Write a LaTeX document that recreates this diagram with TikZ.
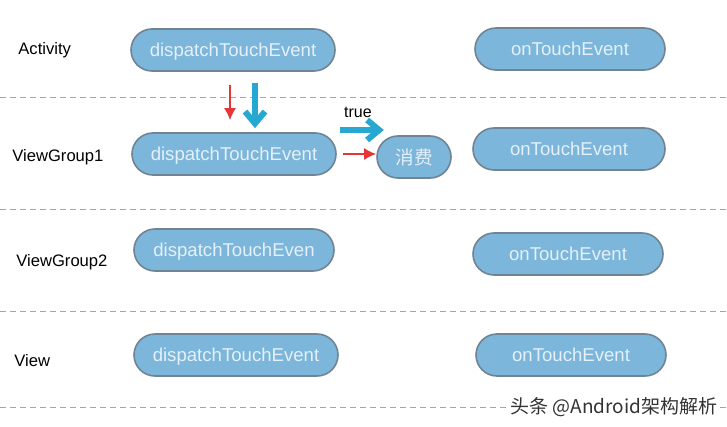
\documentclass[tikz,border=0pt]{standalone}
\usepackage{fontspec}
\setmainfont{Liberation Sans}
\newfontfamily\cjkfont{Noto Sans CJK SC}
\usetikzlibrary{positioning, arrows.meta}
\definecolor{boxblue}{RGB}{124,182,218}
\definecolor{boxedge}{RGB}{112,132,148}
\definecolor{boxtext}{RGB}{228,240,250}
\definecolor{arrowblue}{RGB}{38,168,210}
\definecolor{arrowred}{RGB}{232,52,52}
\begin{document}
\begin{tikzpicture}[x=0.5pt,y=-0.5pt,eventbox/.style={draw=boxedge,thick,fill=boxblue,rounded corners=10.5pt,text=boxtext,font=\fontsize{9.3}{11}\selectfont,minimum width=102pt,minimum height=21pt,inner sep=0pt,text height=6.7pt,text depth=0pt},smallbox/.style={eventbox,minimum width=37pt,text height=7.5pt},layer/.style={anchor=west,inner sep=0pt,font=\fontsize{8.3}{10}\selectfont},divider/.style={gray!70,dashed,dash pattern=on 3pt off 2pt,thin},redarrow/.style={arrowred,line width=1pt,-{Latex[length=6pt,width=6pt]}},bluearrow/.style={arrowblue,line width=3pt,-{Straight Barb[length=6pt,width=10pt]}}]
\useasboundingbox[fill=white] (0,0) rectangle (727,427);
\node[layer] (activity) at (18,50) {Activity};
\node[layer] (vgone) at (12,157) {ViewGroup1};
\node[layer] (vgtwo) at (16,262) {ViewGroup2};
\node[layer] (view) at (14,361) {View};
\node[eventbox] (actdisp) at (233,50) {dispatchTouchEvent};
\node[eventbox, minimum width=95pt] (actouch) at (570,49) {onTouchEvent};
\node[eventbox] (vgonedisp) at (234,154) {dispatchTouchEvent};
\node[smallbox] (consume) at (414,157) {\cjkfont 消费};
\node[eventbox, minimum width=96pt] (vgonetouch) at (569,149) {onTouchEvent};
\node[eventbox, minimum width=100pt] (vgtwodisp) at (234,250) {dispatchTouchEven};
\node[eventbox, minimum width=95pt] (vgtwotouch) at (568,254) {onTouchEvent};
\node[eventbox] (viewdisp) at (236,355) {dispatchTouchEvent};
\node[eventbox, minimum width=95pt] (viewtouch) at (571,355) {onTouchEvent};
\draw[divider] (0,97) -- (727,97);\draw[divider] (0,209) -- (727,209);\draw[divider] (0,311) -- (727,311);\draw[divider] (0,407) -- (727,407);
\draw[redarrow] ([shift={(-3,13)}]actdisp.south) -- ([shift={(-4,-12)}]vgonedisp.north);
\draw[bluearrow] ([shift={(22,11)}]actdisp.south) -- ([shift={(21,-4)}]vgonedisp.north);
\node[font=\fontsize{8}{10}\selectfont] (truelabel) at (358,112) {true};
\draw[bluearrow] ([shift={(3,-24)}]vgonedisp.east) -- ([shift={(47,-24)}]vgonedisp.east);
\draw[redarrow] ([xshift=3pt]vgonedisp.east) -- (consume.west |- vgonedisp.east);
\node[fill=white,text=black!80,inner xsep=1pt,inner ysep=0pt,font=\fontsize{9.5}{11}\selectfont] (mark) at (614,407) {\cjkfont 头条 @Android架构解析};
\end{tikzpicture}
\end{document}
